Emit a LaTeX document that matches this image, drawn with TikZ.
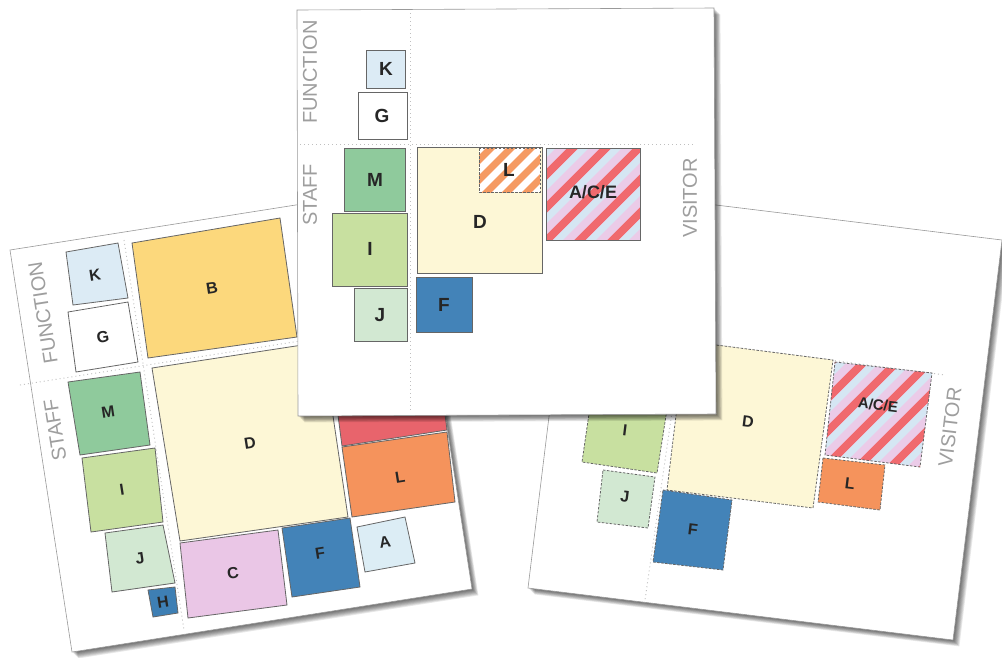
\documentclass[tikz,border=0pt]{standalone}
\usepackage{fontspec}
\setmainfont{Liberation Sans}
\definecolor{cK}{HTML}{DCEBF5}
\definecolor{cB}{HTML}{FCD87C}
\definecolor{cM}{HTML}{8FCA9C}
\definecolor{cI}{HTML}{C8E0A0}
\definecolor{cJ}{HTML}{D2E8D2}
\definecolor{cH}{HTML}{3E7FB4}
\definecolor{cD}{HTML}{FDF7D6}
\definecolor{cC}{HTML}{EAC6E6}
\definecolor{cF}{HTML}{4383B8}
\definecolor{cA}{HTML}{DCEDF5}
\definecolor{cL}{HTML}{F5935C}
\definecolor{cR}{HTML}{E8646C}
\definecolor{acered}{HTML}{F06A6E}
\definecolor{aceblue}{HTML}{D5E6F3}
\definecolor{acepink}{HTML}{EBCBE8}
\definecolor{hatch}{HTML}{F59A62}
\tikzset{
 card/.style={fill=white, draw=black!40, line width=0.6pt},
 bx/.style={draw=black!60, line width=0.8pt},
 rbx/.style={bx, dash pattern=on 2.5pt off 1.5pt},
 lab/.style={font=\bfseries\fontsize{16}{16}\selectfont, text=black!85, inner sep=0pt},
 mlab/.style={font=\bfseries\fontsize{19}{19}\selectfont, text=black!85, inner sep=0pt},
 zone/.style={font=\fontsize{20}{20}\selectfont, text=black!38, inner sep=0pt},
 divider/.style={draw=black!25, line width=0.9pt, dash pattern=on 1pt off 3pt},
}
\newcommand\dropshade[1]{\foreach \i in {1,...,8}{\fill[black,opacity=0.09,shift={(\i*0.8,\i*0.8)}] #1;}}
\newcommand\acestripes[3]{%
 \begin{scope}
 \clip #1;
 \fill[acepink] #1;
 \foreach \a in {-198,-165,...,198}{
  \draw[acered, line width=8pt] ({#2+\a-150},{#3+150}) -- ++(300,-300);
  \draw[aceblue, line width=7pt] ({#2+\a+11-150},{#3+150}) -- ++(300,-300);
 }
 \end{scope}}
\begin{document}
\begin{tikzpicture}[x=1pt,y=-1pt]
\useasboundingbox (0,0) rectangle (1002,657);
\fill[white] (0,0) rectangle (1002,657);

% ================= LEFT CARD =================
\dropshade{(10,250) -- (410,187) -- (472,589) -- (72,652) -- cycle}
\draw[card] (10,250) -- (410,187) -- (472,589) -- (72,652) -- cycle;
\draw[divider] (20,385) -- (300,341);
\draw[divider] (124,240) -- (184,630);
\fill[cK,bx] (66,252) -- (118,243) -- (128,298) -- (73,305) -- cycle;
\fill[white,bx] (68,312) -- (128,302) -- (138,362) -- (76,372) -- cycle;
\fill[cB,bx] (132,243) -- (280,218) -- (297,337) -- (148,358) -- cycle;
\fill[cM,bx] (68,382) -- (140,372) -- (150,445) -- (80,455) -- cycle;
\fill[cI,bx] (82,458) -- (155,448) -- (163,522) -- (91,532) -- cycle;
\fill[cJ,bx] (105,533) -- (163,525) -- (175,583) -- (112,592) -- cycle;
\fill[cH,bx] (148,590) -- (175,587) -- (178,613) -- (153,617) -- cycle;
\fill[cD,bx] (152,368) -- (322,342) -- (348,517) -- (180,541) -- cycle;
\fill[cR,bx] (336,400) -- (441,384) -- (447,430) -- (342,446) -- cycle;
\fill[cL,bx] (342,447) -- (447,432) -- (455,502) -- (352,517) -- cycle;
\fill[cA,bx] (357,527) -- (405,517) -- (415,563) -- (365,572) -- cycle;
\fill[cF,bx] (282,528) -- (350,518) -- (360,587) -- (292,597) -- cycle;
\fill[cC,bx] (180,543) -- (278,530) -- (287,605) -- (188,618) -- cycle;
\node[zone,rotate=99] (lfun) at (43,313) {FUNCTION};
\node[zone,rotate=99] (lsta) at (55,430) {STAFF};
\node[lab,rotate=9] (lK) at (95,275) {K};
\node[lab,rotate=9] (lG) at (103,337) {G};
\node[lab,rotate=9] (lB) at (212,288) {B};
\node[lab,rotate=9] (lM) at (108,412) {M};
\node[lab,rotate=9] (lI) at (122,490) {I};
\node[lab,rotate=9] (lJ) at (140,558) {J};
\node[lab,rotate=9] (lH) at (163,602) {H};
\node[lab,rotate=9] (lD) at (250,443) {D};
\node[lab,rotate=9] (lC) at (233,573) {C};
\node[lab,rotate=9] (lF) at (320,553) {F};
\node[lab,rotate=9] (lA) at (385,542) {A};
\node[lab,rotate=9] (lL) at (400,477) {L};

% ================= RIGHT CARD =================
\dropshade{(577,188) -- (1002,240) -- (953,640) -- (528,588) -- cycle}
\draw[card] (577,188) -- (1002,240) -- (953,640) -- (528,588) -- cycle;
\draw[divider] (700,343) -- (945,375);
\draw[divider] (672,412) -- (645,600);
\fill[cD,rbx] (685,341) -- (833,360) -- (813,508) -- (667,490) -- cycle;
\acestripes{(835,362) -- (932,373) -- (920,467) -- (825,455) -- cycle}{878}{414}
\draw[rbx] (835,362) -- (932,373) -- (920,467) -- (825,455) -- cycle;
\fill[cL,rbx] (823,458) -- (885,465) -- (880,510) -- (818,502) -- cycle;
\fill[cI,rbx] (592,393) -- (668,403) -- (657,473) -- (582,462) -- cycle;
\fill[cJ,rbx] (603,470) -- (655,477) -- (648,528) -- (597,522) -- cycle;
\fill[cF,rbx] (663,490) -- (732,500) -- (723,570) -- (653,562) -- cycle;
\node[zone,rotate=83] (rvis) at (950,427) {VISITOR};
\node[lab,rotate=-7] (rD) at (748,422) {D};
\node[lab,rotate=-7,font=\bfseries\fontsize{15}{15}\selectfont] (rACE) at (878,405) {A/C/E};
\node[lab,rotate=-7] (rL) at (850,484) {L};
\node[lab,rotate=-7] (rI) at (625,430) {I};
\node[lab,rotate=-7] (rJ) at (625,497) {J};
\node[lab,rotate=-7] (rF) at (693,530) {F};

% ================= MIDDLE CARD =================
\dropshade{(297,10) -- (714,8) -- (716,414) -- (298,416) -- cycle}
\draw[card] (297,10) -- (714,8) -- (716,414) -- (298,416) -- cycle;
\draw[divider] (300,144) -- (695,144);
\draw[divider] (410,13) -- (410,410);
\fill[cK,bx] (366,50) rectangle (405,88);
\fill[white,bx] (358,92) rectangle (407,139);
\fill[cM,bx] (344,148) rectangle (405,211);
\fill[cI,bx] (332,213) rectangle (407,286);
\fill[cJ,bx] (354,288) rectangle (407,341);
\fill[cD,bx] (417,147) rectangle (542,273);
\begin{scope}
 \clip (479,148) rectangle (540,192);
 \fill[white] (479,148) rectangle (540,192);
 \foreach \a in {-100,-80,...,100}{
  \draw[hatch, line width=7pt] ({509+\a-60},{170+60}) -- ++(120,-120);
 }
\end{scope}
\draw[bx, dash pattern=on 2.5pt off 1.5pt] (479,148) rectangle (540,192);
\acestripes{(546,148) rectangle (640,240)}{593}{194}
\draw[bx] (546,148) rectangle (640,240);
\fill[cF,bx] (416,277) rectangle (472,332);
\node[zone,rotate=90] (mfun) at (310,72) {FUNCTION};
\node[zone,rotate=90] (msta) at (310,195) {STAFF};
\node[zone,rotate=90] (mvis) at (690,198) {VISITOR};
\node[mlab] (mK) at (386,69) {K};
\node[mlab] (mG) at (382,116) {G};
\node[mlab] (mM) at (375,180) {M};
\node[mlab] (mI) at (370,249) {I};
\node[mlab] (mJ) at (380,315) {J};
\node[mlab] (mD) at (480,222) {D};
\node[mlab] (mL) at (509,170) {L};
\node[mlab,font=\bfseries\fontsize{18}{18}\selectfont] (mACE) at (593,192) {A/C/E};
\node[mlab] (mF) at (444,305) {F};
\end{tikzpicture}
\end{document}
